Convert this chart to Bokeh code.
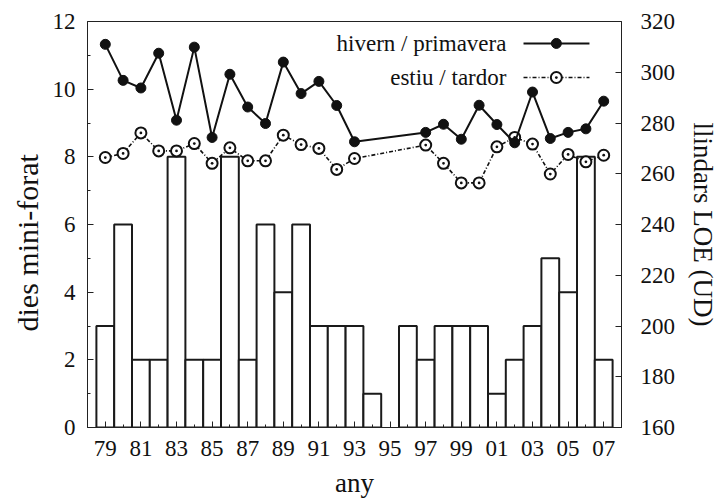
from bokeh.plotting import figure
from bokeh.models import Range1d, LinearAxis, FixedTicker, Title
from bokeh.core.properties import value
from bokeh.embed import file_html
from bokeh.resources import INLINE

# ---------------- data ----------------
years = list(range(1979, 2008))
days = [3, 6, 2, 2, 8, 2, 2, 8, 2, 6, 4, 6, 3, 3, 3, 1, 0, 3, 2, 3, 3, 3, 1, 2, 3, 5, 4, 8, 2]

line_years = list(range(1979, 1994)) + list(range(1997, 2008))
hivern = [311.0, 296.8, 293.8, 307.5, 281.1, 309.9, 274.3, 299.2, 286.3, 279.8,
          304.0, 291.6, 296.4, 286.9, 272.6,
          276.3, 279.5, 273.6, 287.0, 279.4, 272.2, 292.2, 273.9, 276.3, 277.7, 288.6]
estiu = [266.4, 268.0, 276.1, 269.0, 269.0, 271.9, 264.1, 270.2, 265.1, 265.1,
         275.2, 271.5, 270.0, 261.7, 266.0,
         271.3, 264.1, 256.4, 256.4, 270.6, 274.3, 271.7, 259.9, 267.6, 264.7, 267.3]

label_years = list(range(1979, 2008, 2))
tick_labels = ["79", "81", "83", "85", "87", "89", "91", "93", "95", "97",
               "99", "01", "03", "05", "07"]
minor_years = list(range(1980, 2007, 2))
left_ticks = [0, 2, 4, 6, 8, 10, 12]
left_minor = [1, 3, 5, 7, 9, 11]
right_ticks = [160, 180, 200, 220, 240, 260, 280, 300, 320]
legend_labels = ["hivern / primavera", "estiu / tardor"]
x_title = "any"
y_title = "dies mini-forat"
y2_title = "llindars LOE (UD)"

FONT = "Liberation Serif"
INK = "#111111"

# ---------------- figure ----------------
X0, X1 = 1978, 2008
Y0, Y1 = 0, 12
p = figure(width=722, height=504, x_range=Range1d(X0, X1), y_range=Range1d(Y0, Y1),
           output_backend="svg", toolbar_location=None,
           min_border_left=87, min_border_right=101, min_border_top=21, min_border_bottom=76)
p.extra_y_ranges = {"loe": Range1d(160, 320)}
p.add_layout(LinearAxis(y_range_name="loe"), "right")

p.xgrid.visible = False
p.ygrid.visible = False
p.background_fill_color = "white"
p.border_fill_color = "white"
p.outline_line_color = "#222222"
p.outline_line_width = 1

for ax in p.axis:
    ax.axis_line_color = "#222222"
    ax.axis_line_width = 1
    ax.major_tick_out = 0
    ax.minor_tick_out = 0
    ax.major_tick_in = 6
    ax.minor_tick_in = 3
    ax.major_tick_line_color = "#222222"
    ax.minor_tick_line_color = "#222222"
    ax.major_label_text_font = FONT
    ax.major_label_text_font_size = "23px"
    ax.major_label_text_color = INK
    ax.axis_label_text_font = FONT
    ax.axis_label_text_font_size = "27px"
    ax.axis_label_text_font_style = "normal"
    ax.axis_label_text_color = INK

xax = p.xaxis[0]
xax.ticker = FixedTicker(ticks=label_years, minor_ticks=minor_years)
xax.major_label_overrides = {y: t for y, t in zip(label_years, tick_labels)}
xax.major_label_standoff = 13

lax = p.yaxis[0]
lax.ticker = FixedTicker(ticks=left_ticks, minor_ticks=left_minor)
lax.major_label_standoff = 12

rax = p.yaxis[1]
rax.ticker = FixedTicker(ticks=right_ticks, minor_ticks=[])
rax.axis_label = y2_title
rax.major_label_standoff = 19
rax.axis_label_standoff = 10

# axis titles as side-panel titles
p.add_layout(Title(text=x_title, align="center", text_font=FONT, text_font_size="27px",
                   text_font_style="normal", text_color=INK, standoff=14), "below")
p.add_layout(Title(text=y_title, align="left", offset=96, text_font=FONT,
                   text_font_size="30px", text_font_style="normal", text_color=INK,
                   standoff=11), "left")


def fx(f):
    return X0 + f * (X1 - X0)


def fy(f):
    return Y0 + f * (Y1 - Y0)


# ---------------- bars ----------------
bx = [y for y, d in zip(years, days) if d > 0]
bt = [d for d in days if d > 0]
p.vbar(x=bx, top=bt, bottom=0, width=1.0, fill_color="white",
       line_color="#1a1a1a", line_width=2)

# ---------------- lines ----------------
p.line(line_years, estiu, y_range_name="loe", line_color=INK,
       line_width=1.6, line_dash="4 2 1 2")
p.scatter(line_years, estiu, y_range_name="loe", marker="circle_dot", size=11,
          fill_color="white", line_color=INK, line_width=2)
p.line(line_years, hivern, y_range_name="loe", line_color=INK, line_width=2)
p.scatter(line_years, hivern, y_range_name="loe", marker="circle", size=10,
          fill_color=INK, line_color=INK)

# ---------------- legend (layout in frame fractions) ----------------
text_x = fx(0.7845)
s0, s1, sm = fx(0.8165), fx(0.94), fx(0.878)
rows = [fy(0.946), fy(0.862)]
p.text(x=[text_x, text_x], y=rows, text=legend_labels, text_align="right",
       text_baseline="middle", text_font=value(FONT), text_font_size="23px",
       text_color=INK)
p.line([s0, s1], [rows[0], rows[0]], line_color=INK, line_width=2)
p.scatter([sm], [rows[0]], marker="circle", size=10, fill_color=INK, line_color=INK)
p.line([s0, s1], [rows[1], rows[1]], line_color=INK, line_width=1.6,
       line_dash="4 2 1 2")
p.scatter([sm], [rows[1]], marker="circle_dot", size=11, fill_color="white",
          line_color=INK, line_width=2)

open("out.html", "w").write(file_html(p, INLINE))
